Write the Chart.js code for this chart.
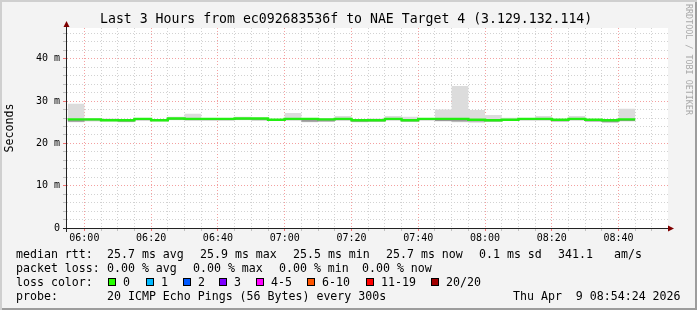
<!DOCTYPE html>
<html><head><meta charset="utf-8">
<script src="https://cdn.jsdelivr.net/npm/chart.js@4/dist/chart.umd.min.js"></script>
<style>
html,body{margin:0;padding:0;background:#f3f3f3;}
#wrap{position:relative;width:697px;height:310px;overflow:hidden;background:#f3f3f3;font-family:'DejaVu Sans Mono',monospace;color:#000;}
#c{position:absolute;left:0;top:0;}
#shade{position:absolute;left:0;top:0;width:697px;height:310px;box-shadow:inset 2px 2px 0 #cfcfcf, inset -2px -2px 0 #9c9c9c;pointer-events:none;}
#title{position:absolute;left:100px;top:11px;font-size:13.2px;line-height:16px;white-space:pre;}
.t{position:absolute;white-space:pre;font-size:11.6px;line-height:14px;}
.box{position:absolute;width:6px;height:6px;border:1px solid #000;}
#wm{position:absolute;left:684px;top:4px;font-size:8.4px;line-height:10px;color:#a8a8a8;writing-mode:vertical-rl;white-space:pre;}
</style></head>
<body>
<div id="wrap">
<canvas id="c" width="697" height="310"></canvas>
<div id="title">Last 3 Hours from ec092683536f to NAE Target 4 (3.129.132.114)</div>
<div id="wm">RRDTOOL / TOBI OETIKER</div>
<div id="legend"></div>
<div id="shade"></div>
</div>
<script>
// ---- data ----
const slotStarts = ['05:55','06:00','06:05','06:10','06:15','06:20','06:25','06:30','06:35','06:40','06:45','06:50','06:55',
  '07:00','07:05','07:10','07:15','07:20','07:25','07:30','07:35','07:40','07:45','07:50','07:55',
  '08:00','08:05','08:10','08:15','08:20','08:25','08:30','08:35','08:40'];
const medianRtt = [25.7,25.7,25.5,25.5,25.8,25.5,25.9,25.8,25.8,25.8,25.9,25.9,25.6,
  25.8,25.8,25.7,25.8,25.5,25.5,25.8,25.5,25.8,25.8,25.8,25.6,
  25.5,25.6,25.8,25.8,25.6,25.8,25.6,25.5,25.7];
const smokeMax = [29.4,26.0,25.9,25.8,26.0,25.7,26.3,27.0,25.9,25.9,26.3,26.1,25.8,
  27.2,26.0,26.0,26.5,25.7,25.9,26.5,26.3,25.9,28.0,33.6,27.9,
  26.7,26.1,25.9,26.5,25.7,26.5,25.8,25.7,28.2];
const smokeMin = [25.0,25.2,25.2,25.0,25.4,25.2,25.5,25.4,25.4,25.4,25.5,25.4,25.3,
  25.5,25.0,25.1,25.4,25.0,25.2,25.5,25.2,25.5,25.2,25.0,24.9,
  25.2,25.3,25.5,25.5,25.3,25.5,25.2,24.9,25.2];
const smokeCoreLo = [25.1,25.4,25.3,25.1,25.5,25.3,25.6,25.5,25.5,25.5,25.6,25.5,25.3,
  25.5,25.1,25.2,25.5,25.1,25.2,25.5,25.2,25.5,25.3,25.2,25.2,
  25.2,25.3,25.5,25.5,25.2,25.5,25.2,25.0,25.3];
const xTickLabels = ['06:00','06:20','06:40','07:00','07:20','07:40','08:00','08:20','08:40'];
const yTickLabels = ['0','10 m','20 m','30 m','40 m'];
const lossLabels = ['0','1','2','3','4-5','6-10','11-19','20/20'];
const lossColors = ['#26ff00','#00b8ff','#0059ff','#7e00ff','#ff00ff','#ff5500','#ff0000','#a10000'];
const stepMin = 5;

// ---- helpers ----
const toMin = s => { const p = s.split(':').map(Number); return p[0]*60 + p[1] - 360; };
const pts = arr => {
  const r = slotStarts.map((s,i)=>({x: toMin(s), y: arr[i]}));
  r.push({x: toMin(slotStarts[slotStarts.length-1]) + stepMin, y: arr[arr.length-1]});
  return r;
};
const xGrid = []; for (let v = 0; v <= 170; v += 5) xGrid.push(v);
const yGrid = []; for (let v = 0; v <= 46; v += 2) yGrid.push(v);

// ---- legend (HTML text) ----
const L = document.getElementById('legend');
function txt(x, y, s){ const d = document.createElement('div'); d.className='t'; d.style.left=x+'px'; d.style.top=y+'px'; d.textContent=s; L.appendChild(d); }
const r1 = [[16,'median rtt:'],[107,'25.7 ms avg'],[200,'25.9 ms max'],[293,'25.5 ms min'],[386,'25.7 ms now'],[479,'0.1 ms sd'],[558,'341.1'],[614,'am/s']];
r1.forEach(a=>txt(a[0],247,a[1]));
const r2 = [[16,'packet loss:'],[107,'0.00 % avg'],[193,'0.00 % max'],[279,'0.00 % min'],[362,'0.00 % now']];
r2.forEach(a=>txt(a[0],261,a[1]));
txt(16,275,'loss color:');
const boxX = [108,146,183,219,256,307,366,431];
lossLabels.forEach((lab,i)=>{
  const b = document.createElement('div'); b.className='box'; b.style.left=boxX[i]+'px'; b.style.top='278px'; b.style.background=lossColors[i]; L.appendChild(b);
  txt(boxX[i]+15,275,lab);
});
txt(16,289,'probe:'); txt(107,289,'20 ICMP Echo Pings (56 Bytes) every 300s'); txt(513,289,'Thu Apr  9 08:54:24 2026');

// ---- chart ----
const decor = {
  id:'decor',
  beforeDraw(chart){
    const {ctx, chartArea:a} = chart;
    ctx.save(); ctx.fillStyle='#ffffff'; ctx.fillRect(a.left, a.top, a.right-a.left, a.bottom-a.top); ctx.restore();
  },
  afterDraw(chart){
    const {ctx, chartArea:a} = chart;
    ctx.save();
    ctx.strokeStyle='#222'; ctx.lineWidth=1;
    ctx.beginPath();
    ctx.moveTo(a.left-4, a.bottom+0.5); ctx.lineTo(a.right+1, a.bottom+0.5);
    ctx.moveTo(a.left-0.5, a.bottom+4); ctx.lineTo(a.left-0.5, a.top-3);
    ctx.stroke();
    ctx.fillStyle='#7f0000';
    ctx.beginPath(); ctx.moveTo(a.right, a.bottom-2.5); ctx.lineTo(a.right+6, a.bottom+0.5); ctx.lineTo(a.right, a.bottom+3.5); ctx.closePath(); ctx.fill();
    ctx.beginPath(); ctx.moveTo(a.left-3.5, a.top-1); ctx.lineTo(a.left-0.5, a.top-7); ctx.lineTo(a.left+2.5, a.top-1); ctx.closePath(); ctx.fill();
    ctx.restore();
  }
};
const clear = 'rgba(0,0,0,0)';
const monoTick = {family:"'DejaVu Sans Mono', monospace", size:10};
new Chart(document.getElementById('c'), {
  type:'line',
  data:{datasets:[
    {data:pts(smokeMax), order:5, stepped:'before', borderWidth:0, borderColor:clear, backgroundColor:'#dcdcdc', fill:'+1', pointRadius:0},
    {data:pts(smokeMin), order:4, stepped:'before', borderWidth:0, borderColor:clear, fill:false, pointRadius:0},
    {data:pts(medianRtt), order:3, stepped:'before', borderWidth:0, borderColor:clear, backgroundColor:'#999999', fill:'+1', pointRadius:0},
    {data:pts(smokeCoreLo), order:2, stepped:'before', borderWidth:0, borderColor:clear, fill:false, pointRadius:0},
    {data:pts(medianRtt), order:0, stepped:'before', borderWidth:2.4, borderColor:'#22ee11', fill:false, pointRadius:0}
  ]},
  options:{
    responsive:false, devicePixelRatio:1, animation:false, events:[],
    layout:{padding:{left:0, right:29, top:28, bottom:0}},
    plugins:{legend:{display:false}, tooltip:{enabled:false}, title:{display:false}},
    scales:{
      x:{type:'linear', min:-5.2, max:174.8,
        afterBuildTicks: s => { s.ticks = xGrid.map(v=>({value:v})); },
        afterFit: s => { s.height = 82; },
        ticks:{autoSkip:false, maxRotation:0, minRotation:0, padding:1, font:monoTick, color:'#000',
          callback: v => (v % 20 === 0 ? xTickLabels[v/20] : '')},
        grid:{lineWidth:1, tickLength:3,
          color: c => (c.tick && c.tick.value % 20 === 0) ? '#f4a0a0' : '#d2d2d2',
          tickColor: c => (c.tick && c.tick.value % 20 === 0) ? '#f07070' : '#c0c0c0'},
        border:{display:false, dash:[1,2]}
      },
      y:{min:0, max:47.3,
        afterBuildTicks: s => { s.ticks = yGrid.map(v=>({value:v})); },
        afterFit: s => { s.width = 67; },
        ticks:{autoSkip:false, padding:3, font:monoTick, color:'#000',
          callback: v => (v % 10 === 0 ? yTickLabels[v/10] : '')},
        title:{display:true, text:'Seconds', color:'#000', font:{family:"'DejaVu Sans Mono', monospace", size:11.6}, padding:{top:3, bottom:0}},
        grid:{lineWidth:1, tickLength:4,
          color: c => (c.tick && c.tick.value % 10 === 0) ? '#f4a0a0' : '#d2d2d2',
          tickColor: c => (c.tick && c.tick.value % 10 === 0) ? '#f07070' : '#c0c0c0'},
        border:{display:false, dash:[1,2]}
      }
    }
  },
  plugins:[decor]
});
</script>
</body></html>
